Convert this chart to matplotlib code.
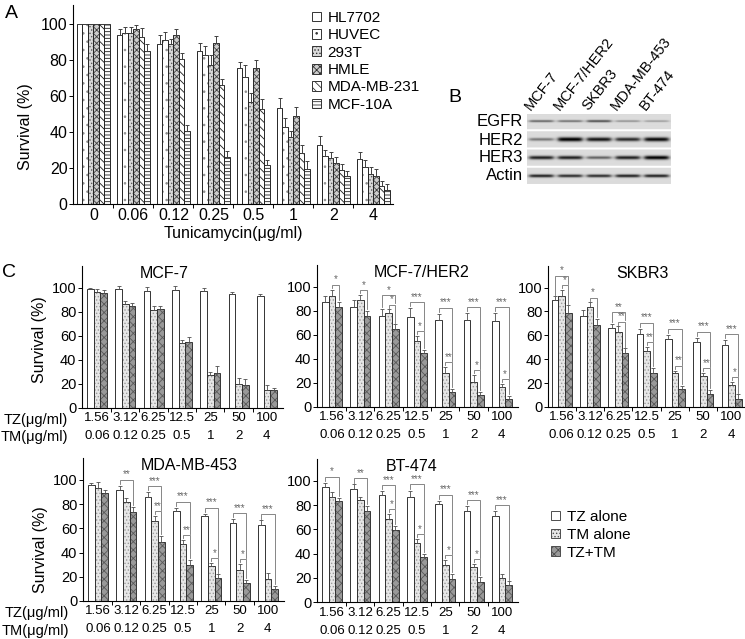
import numpy as np
import matplotlib
matplotlib.use('Agg')
import matplotlib.pyplot as plt
from matplotlib.patches import Patch
import matplotlib.transforms as mtrans

plt.rcParams['font.family'] = ['Liberation Sans', 'DejaVu Sans']
plt.rcParams['hatch.linewidth'] = 0.6

# ---------------- data: panel A ----------------
a_doses = ['0', '0.06', '0.12', '0.25', '0.5', '1', '2', '4']
a_lines = ['HL7702', 'HUVEC', '293T', 'HMLE', 'MDA-MB-231', 'MCF-10A']
a_hl7702 = [100, 94, 89, 85, 75.5, 53.5, 32.5, 25]
a_huvec = [100, 95, 91, 83, 70.5, 43, 26.5, 20.5]
a_293t = [100, 95, 89, 77, 56.5, 37, 25.5, 16.5]
a_hmle = [100, 97, 94, 89.5, 75.5, 49, 22.5, 15.5]
a_mda231 = [100, 93, 80.5, 66, 53, 28.5, 19, 10]
a_mcf10a = [100, 85, 40.5, 26, 21.5, 19.5, 15.5, 8]
a_err_hl7702 = [0, 3, 5, 4.5, 3.5, 5.5, 5, 4]
a_err_huvec = [0, 3.5, 4.5, 5, 6.5, 4.5, 3.5, 4]
a_err_293t = [0, 3.5, 2.5, 5.5, 5, 3.5, 3.5, 4]
a_err_hmle = [0, 2.5, 3, 4, 4.5, 5, 3.5, 4]
a_err_mda231 = [0, 4.5, 3.5, 3.5, 5.5, 4.5, 3, 3]
a_err_mcf10a = [0, 4, 3.5, 3.5, 3, 4.5, 3, 3]

# ---------------- data: panel B (band intensities) ----------------
b_lanes = ['MCF-7', 'MCF-7/HER2', 'SKBR3', 'MDA-MB-453', 'BT-474']
b_proteins = ['EGFR', 'HER2', 'HER3', 'Actin']
b_egfr = [0.55, 0.5, 0.65, 0.35, 0.3]
b_her2 = [0.45, 1.0, 0.9, 0.8, 0.95]
b_her3 = [0.85, 0.85, 0.55, 0.85, 1.0]
b_actin = [0.85, 0.8, 0.8, 0.85, 0.85]

# ---------------- data: panel C ----------------
c_tz_doses = ['1.56', '3.12', '6.25', '12.5', '25', '50', '100']
c_tm_doses = ['0.06', '0.12', '0.25', '0.5', '1', '2', '4']
c_groups = ['TZ alone', 'TM alone', 'TZ+TM']

mcf7_tz = [99, 99, 97.5, 98, 97.5, 94.5, 93]
mcf7_tm = [96.5, 86, 81, 53.5, 27, 20, 15]
mcf7_combo = [95.5, 85, 82, 54.5, 29, 18.5, 14.5]
mcf7_etz = [1, 2, 3, 3.5, 2.5, 2, 2]
mcf7_etm = [2, 3, 3.5, 2.5, 3, 5, 4]
mcf7_ecombo = [2.5, 2.5, 3, 4, 5.5, 5, 2]
mcf7_sig_tz = ['', '', '', '', '', '', '']
mcf7_sig_tm = ['', '', '', '', '', '', '']

her2_tz = [87, 83, 75.5, 75, 72.5, 72, 71]
her2_tm = [92.5, 89, 78, 55, 28, 20.5, 16]
her2_combo = [83, 75.5, 64.5, 44.5, 12, 9.5, 6]
her2_etz = [5, 6, 6, 7, 5, 6, 7]
her2_etm = [5, 4, 3, 4, 5, 6, 3]
her2_ecombo = [4.5, 4.5, 4, 3, 2.5, 3, 3]
her2_sig_tz = ['', '', '*', '***', '***', '***', '***']
her2_sig_tm = ['*', '*', '*', '*', '**', '*', '*']

skbr3_tz = [89.5, 76, 66.5, 61, 57, 54, 52]
skbr3_tm = [93, 83.5, 62.5, 47, 28.5, 26, 18]
skbr3_combo = [79, 69, 45, 28.5, 15, 11, 6.5]
skbr3_etz = [3, 5, 3, 4.5, 3.5, 4, 4]
skbr3_etm = [5, 4, 5, 3, 2, 2.5, 3]
skbr3_ecombo = [6, 5, 4, 4.5, 2.5, 3, 4]
skbr3_sig_tz = ['*', '', '**', '***', '***', '***', '***']
skbr3_sig_tm = ['*', '*', '**', '**', '**', '**', '*']

mda453_tz = [95.5, 92, 86, 74, 70, 64, 62.5]
mda453_tm = [93, 81.5, 66, 47, 28.5, 25.5, 18]
mda453_combo = [89, 73.5, 48.5, 30, 19, 14.5, 9.5]
mda453_etz = [2, 3, 4, 3, 2, 3.5, 4]
mda453_etm = [5, 3.5, 4, 3.5, 3, 5, 5]
mda453_ecombo = [3, 4, 5, 4, 3, 3, 3]
mda453_sig_tz = ['', '**', '***', '***', '***', '***', '***']
mda453_sig_tm = ['', '', '**', '**', '*', '*', '']

bt474_tz = [95, 93, 88.5, 87, 80.5, 75, 71]
bt474_tm = [86.5, 84, 68.5, 48.5, 30.5, 28.5, 20]
bt474_combo = [83, 75.5, 59.5, 37, 19, 16.5, 14]
bt474_etz = [3.5, 4, 3, 5, 3, 4, 4]
bt474_etm = [4.5, 3, 4, 3.5, 4, 3, 3.5]
bt474_ecombo = [3, 4, 3.5, 3, 4.5, 4.5, 3]
bt474_sig_tz = ['*', '**', '***', '***', '***', '***', '***']
bt474_sig_tm = ['', '', '*', '*', '*', '*', '']

# ---------------- figure ----------------
W, H = 745, 639
fig = plt.figure(figsize=(W / 100, H / 100), dpi=100)


def ax_px(l, t, r, b):
    return fig.add_axes([l / W, 1 - b / H, (r - l) / W, (b - t) / H])


def hbar(ax, x, v, w, fc, hatch, hc, lw=0.7, ec='0.15'):
    ax.bar(x, v, w, color=fc, edgecolor=hc, linewidth=0, hatch=hatch, zorder=2)
    ax.bar(x, v, w, fill=False, edgecolor=ec, linewidth=lw, zorder=3)


# ---------------- Panel A ----------------
axA = ax_px(73, 5, 393, 204)
a_vals = [a_hl7702, a_huvec, a_293t, a_hmle, a_mda231, a_mcf10a]
a_errs = [a_err_hl7702, a_err_huvec, a_err_293t, a_err_hmle, a_err_mda231, a_err_mcf10a]
a_styles = [('white', None, '0.5'), ('white', '..', '0.55'), ('0.85', '.....', '0.35'),
            ('0.8', 'xxxxx', '0.25'), ('white', '\\\\\\\\', '0.1'), ('white', '-----', '0.1')]
bw = 0.1375
xa = np.arange(len(a_doses))
for i, (vals, errs, st) in enumerate(zip(a_vals, a_errs, a_styles)):
    xs = xa + (i - 2.5) * bw
    hbar(axA, xs, vals, bw, st[0], st[1], st[2])
    axA.errorbar(xs, vals, yerr=[np.zeros(len(errs)), errs], fmt='none',
                 ecolor='0.25', elinewidth=0.7, capsize=1.5, capthick=0.7, zorder=4)
axA.set_xlim(-0.51, 7.49)
axA.set_ylim(0, 110.5)
axA.set_yticks([0, 20, 40, 60, 80, 100])
axA.set_xticks(xa)
axA.set_xticklabels(a_doses)
axA.set_xticks(np.arange(0.5, 7, 1), minor=True)
axA.tick_params(axis='x', which='major', length=0, pad=3, labelsize=11.5)
axA.tick_params(axis='x', which='minor', length=3, width=0.7, direction='out')
axA.tick_params(axis='y', length=3, width=0.7, pad=1, labelsize=11.5)
for s in ['top', 'right']:
    axA.spines[s].set_visible(False)
for s in ['left', 'bottom']:
    axA.spines[s].set_linewidth(0.8)
axA.set_ylabel('Survival (%)', fontsize=11.5)
axA.yaxis.set_label_coords(-0.125, 0.39)
axA.set_xlabel('Tunicamycin(μg/ml)', fontsize=11.5, labelpad=2)
handlesA = [Patch(facecolor=st[0], edgecolor='0.2', hatch=st[1], linewidth=0.7) for st in a_styles]
axA.legend(handlesA, a_lines, loc='upper left', bbox_to_anchor=(312 / W, 1 - 11 / H),
           bbox_transform=fig.transFigure, frameon=False, fontsize=11,
           handlelength=0.6, handleheight=0.6, handletextpad=0.4,
           labelspacing=0.22, borderpad=0, borderaxespad=0)

# ---------------- Panel B ----------------
axB = ax_px(527, 114, 671, 184)
rows = [b_egfr, b_her2, b_her3, b_actin]
thick = [2.4, 3.6, 3.3, 2.8]
nx, ny = 288, 140
img = np.ones((ny, nx))
yy = np.arange(ny) + 0.5
xx = np.arange(nx) + 0.5
for r, vals in enumerate(rows):
    y0 = r * 36
    img[y0:y0 + 32, :] = 0.86
    yc = y0 + 16
    for k, v in enumerate(vals):
        xc = (k + 0.5) * nx / 5
        th = thick[r] * (0.55 + 0.6 * v)
        py = np.exp(-((yy - yc) / th) ** 2)
        py[:y0] = 0
        py[y0 + 32:] = 0
        px = 1 / (1 + np.exp((np.abs(xx - xc) - 24) / 2.5))
        img -= 0.88 * v * np.outer(py, px)
img = np.clip(img, 0, 1)
axB.imshow(img, cmap='gray', vmin=0, vmax=1, aspect='auto', interpolation='bilinear')
axB.set_axis_off()
for r, name in enumerate(b_proteins):
    fig.text(523 / W, 1 - (122 + 18 * r) / H, name, ha='right', va='center', fontsize=12)
for k, name in enumerate(b_lanes):
    lx = 533 + 28.8 * k
    fig.text(lx / W, 1 - 113 / H, name, ha='left', va='bottom', rotation=52,
             rotation_mode='anchor', fontsize=10.5)

# ---------------- Panel C ----------------
tz_style = ('white', None, '0.5')
tm_style = ('0.9', '.....', '0.6')
co_style = ('0.6', 'xxxx', '0.35')


def bracket(ax, x1, x2, y, yl, yr, txt):
    ax.plot([x1, x1, x2, x2], [yl, y, y, yr], color='0.45', lw=0.6, zorder=5,
            solid_joinstyle='miter')
    ax.text((x1 + x2) / 2, y + 0.2, txt, ha='center', va='bottom', fontsize=7,
            color='0.4', zorder=6)


def panel_c(rect, xlim, tz, tm, co, etz, etm, eco, sig1, sig2, title, tx, left):
    ax = ax_px(*rect)
    x = np.arange(7)
    w = 0.235
    for off, vals, errs, st in [(-w, tz, etz, tz_style), (0, tm, etm, tm_style), (w, co, eco, co_style)]:
        hbar(ax, x + off, vals, w, st[0], st[1], st[2], lw=0.7, ec='0.2')
        ax.errorbar(x + off, vals, yerr=[np.zeros(7), errs], fmt='none', ecolor='0.3',
                    elinewidth=0.6, capsize=1.2, capthick=0.6, zorder=4)
    for i in range(7):
        ttz = tz[i] + etz[i]
        ttm = tm[i] + etm[i]
        tco = co[i] + eco[i]
        ylow = None
        if sig2[i]:
            ylow = max(ttm, tco) + 4
            bracket(ax, i, i + w, ylow, ttm + 1.5, tco + 1.5, sig2[i])
        if sig1[i]:
            ytop = max(ttz, ttm) + 5
            if ylow is not None:
                ytop = max(ytop, ylow + 8)
                yr = ylow + 1
            else:
                yr = tco + 1.5
            bracket(ax, i - w, i + w, ytop, ttz + 1.5, yr, sig1[i])
    ax.set_xlim(*xlim)
    ax.set_ylim(0, 118)
    ax.set_yticks([0, 20, 40, 60, 80, 100])
    ax.set_xticks(x)
    ax.set_xticks(np.arange(0.5, 6, 1), minor=True)
    ax.tick_params(axis='x', which='major', length=0, labelbottom=False)
    ax.tick_params(axis='x', which='minor', length=3, width=0.7, direction='out')
    ax.tick_params(axis='y', length=3, width=0.7, pad=1, labelsize=10.5)
    for s in ['top', 'right']:
        ax.spines[s].set_visible(False)
    for s in ['left', 'bottom']:
        ax.spines[s].set_linewidth(0.8)
    tr = mtrans.blended_transform_factory(ax.transData, ax.transAxes)
    off1 = mtrans.ScaledTranslation(0, -10.5 / 100, fig.dpi_scale_trans)
    off2 = mtrans.ScaledTranslation(0, -28.5 / 100, fig.dpi_scale_trans)
    for i in range(7):
        ax.text(i, 0, c_tz_doses[i], transform=tr + off1, ha='center', va='center', fontsize=9.5)
        ax.text(i, 0, c_tm_doses[i], transform=tr + off2, ha='center', va='center', fontsize=9.5)
    ax.text(tx, 112 / 118, title, transform=ax.transAxes, ha='center', va='center', fontsize=11.5)
    if left:
        o1 = mtrans.ScaledTranslation(-14 / 100, -12 / 100, fig.dpi_scale_trans)
        o2 = mtrans.ScaledTranslation(-14 / 100, -29.5 / 100, fig.dpi_scale_trans)
        ax.text(0, 0, 'TZ(μg/ml)', transform=ax.transAxes + o1, ha='right', va='center', fontsize=10.5)
        ax.text(0, 0, 'TM(μg/ml)', transform=ax.transAxes + o2, ha='right', va='center', fontsize=10.5)
    return ax


ax1 = panel_c((82, 266, 283, 407.7), (-0.53, 6.57), mcf7_tz, mcf7_tm, mcf7_combo,
              mcf7_etz, mcf7_etm, mcf7_ecombo, mcf7_sig_tz, mcf7_sig_tm, 'MCF-7', 0.41, True)
ax1.set_ylabel('Survival (%)', fontsize=11.5)
ax1.yaxis.set_label_coords(-0.175, 0.48)
ax2 = panel_c((317, 265, 518, 406.7), (-0.53, 6.57), her2_tz, her2_tm, her2_combo,
              her2_etz, her2_etm, her2_ecombo, her2_sig_tz, her2_sig_tm, 'MCF-7/HER2', 0.52, False)
ax3 = panel_c((548, 266, 744, 407), (-0.48, 6.44), skbr3_tz, skbr3_tm, skbr3_combo,
              skbr3_etz, skbr3_etm, skbr3_ecombo, skbr3_sig_tz, skbr3_sig_tm, 'SKBR3', 0.48, False)
ax4 = panel_c((83, 458, 284, 601), (-0.53, 6.57), mda453_tz, mda453_tm, mda453_combo,
              mda453_etz, mda453_etm, mda453_ecombo, mda453_sig_tz, mda453_sig_tm, 'MDA-MB-453', 0.53, True)
ax4.set_ylabel('Survival (%)', fontsize=11.5)
ax4.yaxis.set_label_coords(-0.175, 0.357)
ax5 = panel_c((317, 459, 518, 602), (-0.53, 6.57), bt474_tz, bt474_tm, bt474_combo,
              bt474_etz, bt474_etm, bt474_ecombo, bt474_sig_tz, bt474_sig_tm, 'BT-474', 0.47, False)

handlesC = [Patch(facecolor=st[0], edgecolor='0.3', hatch=st[1], linewidth=0.7)
            for st in [tz_style, tm_style, co_style]]
fig.legend(handlesC, c_groups, loc='upper left', bbox_to_anchor=(551 / W, 1 - 510 / H),
           frameon=False, fontsize=11, handlelength=0.6, handleheight=0.6,
           handletextpad=0.45, labelspacing=0.25, borderpad=0, borderaxespad=0)

# panel letters
fig.text(11 / W, 1 - 14 / H, 'A', ha='center', va='center', fontsize=14)
fig.text(455 / W, 1 - 97 / H, 'B', ha='center', va='center', fontsize=14)
fig.text(9 / W, 1 - 273 / H, 'C', ha='center', va='center', fontsize=14)

fig.savefig('out.png', dpi=100)
